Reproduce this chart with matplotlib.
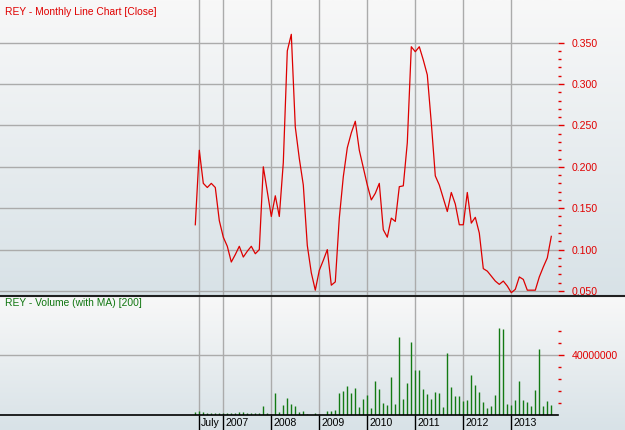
import numpy as np
import matplotlib
matplotlib.use("Agg")
import matplotlib.pyplot as plt
from matplotlib.lines import Line2D
from matplotlib.transforms import blended_transform_factory

# monthly data, Jun 2006 .. Nov 2013
close = [0.13, 0.22, 0.18, 0.175, 0.18, 0.175, 0.135, 0.115, 0.104, 0.085,
         0.094, 0.104, 0.091, 0.098, 0.104, 0.095, 0.10, 0.20, 0.17, 0.14,
         0.165, 0.14, 0.205, 0.34, 0.36, 0.248, 0.21, 0.178, 0.105, 0.072,
         0.051, 0.075, 0.087, 0.10, 0.057, 0.061, 0.138, 0.188, 0.223, 0.241,
         0.255, 0.22, 0.199, 0.178, 0.16, 0.168, 0.18, 0.124, 0.115, 0.138,
         0.134, 0.176, 0.177, 0.229, 0.345, 0.339, 0.345, 0.329, 0.311, 0.253,
         0.189, 0.178, 0.162, 0.146, 0.169, 0.155, 0.13, 0.13, 0.169, 0.132,
         0.139, 0.12, 0.077, 0.074, 0.068, 0.062, 0.058, 0.062, 0.056, 0.048,
         0.052, 0.067, 0.064, 0.051, 0.051, 0.051, 0.067, 0.079, 0.09, 0.116]

# volume in millions
volume = [2.3, 2.8, 1.9, 1.6, 1.6, 1.6, 1.6, 1.6, 1.6, 1.6,
          1.8, 2.2, 2.5, 1.8, 1.6, 1.6, 1.7, 6.2, 1.6, 0.9,
          15.0, 2.2, 6.9, 11.6, 7.8, 6.2, 2.3, 2.7, 1.2, 0.0,
          1.3, 0.0, 0.0, 2.9, 3.1, 3.6, 15.0, 16.4, 19.6, 14.8,
          18.2, 5.3, 11.0, 13.6, 4.8, 22.9, 17.6, 8.4, 6.9, 25.6,
          7.5, 52.2, 10.9, 21.6, 48.8, 30.1, 30.1, 17.6, 14.3, 10.9,
          15.7, 15.0, 5.4, 41.6, 18.9, 12.9, 12.9, 9.6, 10.2, 26.8,
          20.2, 15.7, 8.9, 5.2, 5.9, 13.6, 58.0, 57.4, 7.6, 6.9,
          10.2, 22.9, 10.2, 8.9, 6.2, 16.9, 44.1, 6.4, 9.6, 6.9]

tick_pos = [1, 7, 19, 31, 43, 55, 67, 79]
tick_labels = ["July", "2007", "2008", "2009", "2010", "2011", "2012", "2013"]

price_ticks = [0.05, 0.10, 0.15, 0.20, 0.25, 0.30, 0.35]
vol_ticks = [40]
vol_minor = [8, 16, 24, 32, 48, 56]

W, H = 625, 430
FONT = "Liberation Sans"


def frame(x0, y0, x1, y1):
    return [x0 / W, 1 - y1 / H, (x1 - x0) / W, (y1 - y0) / H]


fig = plt.figure(figsize=(W / 100, H / 100), dpi=100)
fig.patch.set_facecolor("#e4eaed")

# gradient backgrounds
grad = np.linspace(0, 1, 256).reshape(-1, 1)
cmap = matplotlib.colors.LinearSegmentedColormap.from_list("bg", ["#f8f8f8", "#d8e2e7"])
for box in [(0, 0, 625, 295), (0, 296, 625, 430)]:
    bg = fig.add_axes(frame(*box), zorder=0)
    bg.imshow(grad, aspect="auto", cmap=cmap, extent=[0, 1, 1, 0])
    bg.set_axis_off()

x = np.arange(len(close))
xlim = (-195.3 / 4, (558 - 195.3) / 4)
red = "#e00000"
grid_c = "#ababab"

# price panel
ax1 = fig.add_axes(frame(0, 0, 558, 295), zorder=2)
ax1.patch.set_alpha(0)
ax1.plot(x, close, color="#dd0000", lw=0.9)
ax1.set_xlim(xlim)
ax1.set_ylim(0.05 - 4 / 41.4 * 0.05, 0.05 + 291 / 41.4 * 0.05)
ax1.set_xticks(tick_pos)
ax1.set_xticklabels([])
ax1.tick_params(axis="x", length=0)
ax1.yaxis.tick_right()
ax1.set_yticks(price_ticks)
ax1.set_yticklabels([f"{v:.3f}" for v in price_ticks])
ax1.set_yticks(np.round(np.arange(0.05, 0.351, 0.01), 2), minor=True)
ax1.tick_params(axis="y", which="major", direction="out", length=4, width=1,
                color=red, labelcolor=red, labelsize=7.6, pad=6)
ax1.tick_params(axis="y", which="minor", direction="out", length=2.5, width=1, color=red)
for lab in ax1.get_yticklabels():
    lab.set_fontfamily(FONT)
ax1.grid(True, color=grid_c, lw=1)
for s in ax1.spines.values():
    s.set_visible(False)
fig.text(5 / W, 1 - 12 / H, "REY - Monthly Line Chart [Close]", color=red,
         fontsize=7.4, family=FONT, va="center", ha="left")

# volume panel
ax2 = fig.add_axes(frame(0, 296.5, 558, 415.3), zorder=2)
ax2.patch.set_alpha(0)
ax2.vlines(x, 0, volume, color="#137a13", lw=1)
ax2.set_xlim(xlim)
ax2.set_ylim(0, (415.3 - 296.5) / 1.5)
ax2.set_xticks(tick_pos)
ax2.set_xticklabels([])
ax2.tick_params(axis="x", direction="out", length=10.5, width=1, color="black")
ax2.yaxis.tick_right()
ax2.set_yticks(vol_ticks)
ax2.set_yticklabels(["40000000"])
ax2.set_yticks(vol_minor, minor=True)
ax2.tick_params(axis="y", which="major", direction="out", length=4, width=1,
                color=red, labelcolor=red, labelsize=7.6, pad=6)
ax2.tick_params(axis="y", which="minor", direction="out", length=2.5, width=1, color=red)
for lab in ax2.get_yticklabels():
    lab.set_fontfamily(FONT)
ax2.grid(True, color=grid_c, lw=1)
for name, s in ax2.spines.items():
    s.set_visible(name == "bottom")
ax2.spines["bottom"].set_color("black")
ax2.spines["bottom"].set_linewidth(1.2)
fig.text(5 / W, 1 - 303 / H, "REY - Volume (with MA) [200]", color="#117711",
         fontsize=7.4, family=FONT, va="center", ha="left")

trans = blended_transform_factory(ax2.transData, ax2.transAxes)
strip_y = (415.3 - 423) / (415.3 - 296.5)
for p, lab in zip(tick_pos, tick_labels):
    ax2.text(p + 0.5, strip_y, lab, transform=trans, fontsize=7.6, family=FONT,
             color="black", va="center", ha="left", clip_on=False)

# panel divider
fig.add_artist(Line2D([0, 1], [1 - 295.7 / H] * 2, color="#202020", lw=1.5))

fig.savefig("out.png", dpi=100)
